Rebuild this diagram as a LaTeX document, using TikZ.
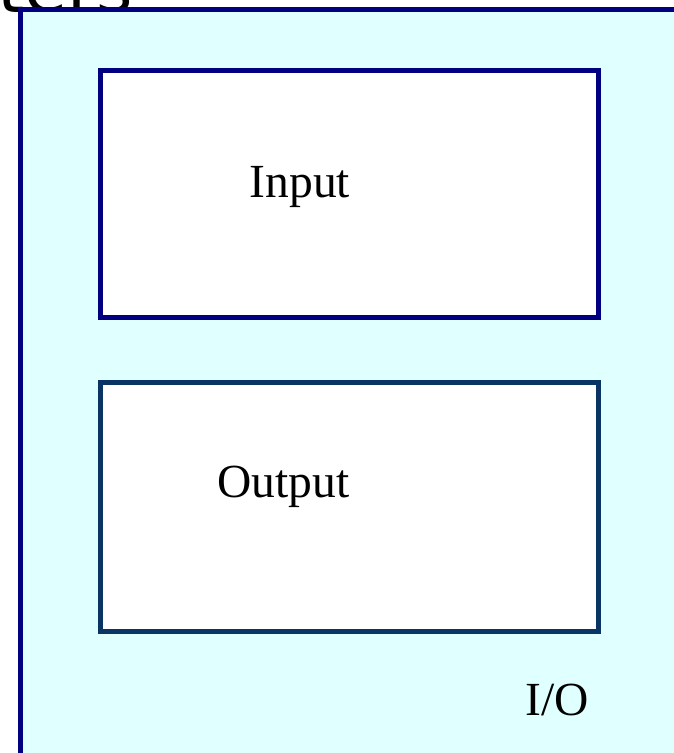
\documentclass[tikz,border=0pt]{standalone}
\usepackage{fontspec}
\setmainfont{Liberation Serif}
\newfontfamily\headfont{DejaVu Sans}
\definecolor{framefill}{RGB}{224,255,255}
\definecolor{framenavy}{RGB}{0,0,128}
\definecolor{outblue}{RGB}{10,52,100}
\tikzset{
  lbl/.style={font=\fontsize{47.5}{52}\selectfont, inner sep=0pt, anchor=base},
  boxstyle/.style={line width=5pt, fill=white},
}
\begin{document}
\begin{tikzpicture}[x=1pt,y=1pt]
\useasboundingbox (0,0) rectangle (673,-753);
\fill[white] (0,0) rectangle (673,-753);
\node[font=\headfont\fontsize{70}{80}\selectfont, inner sep=0pt, anchor=base east] (head) at (133,-12.5) {ters};
\draw[line width=5pt, draw=framenavy, fill=framefill] (20.5,-800) -- (20.5,-9.5) -- (720,-9.5) -- (720,-800);
\draw[boxstyle, draw=framenavy] (100,-70.5) rectangle (598.5,-317.5);
\draw[boxstyle, draw=outblue] (100,-382.5) rectangle (598.5,-631);
\node[lbl] (in) at (300,-197) {Input};
\node[lbl] (out) at (283.5,-497) {Output};
\node[lbl] (io) at (557,-715) {I/O};
\end{tikzpicture}
\end{document}
